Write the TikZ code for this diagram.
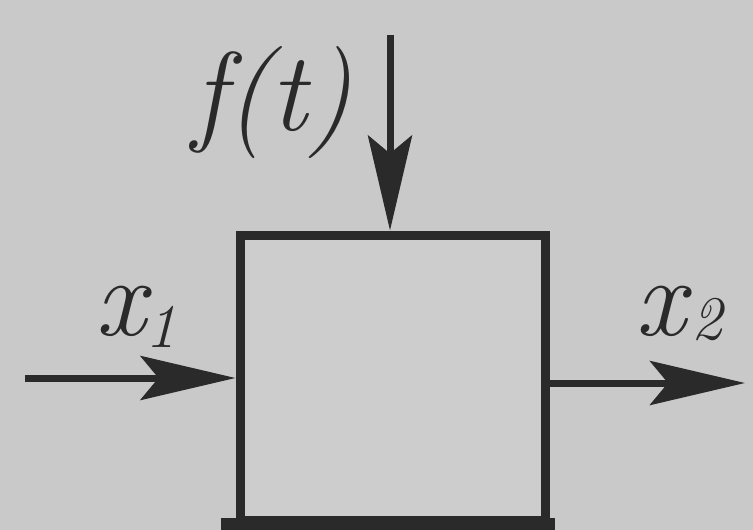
\documentclass[tikz,border=0pt]{standalone}
\usetikzlibrary{arrows.meta}
\definecolor{bg}{HTML}{C9C9C9}
\definecolor{boxbg}{HTML}{CDCDCD}
\definecolor{ink}{HTML}{2A2A2A}
\begin{document}
\begin{tikzpicture}[x=1pt,y=-1pt,
  arr/.style={draw=ink,line width=7pt,-{Stealth[length=95pt,width=44pt,inset=18pt]}},
  lbl/.style={font=\fontsize{112}{112}\selectfont\itshape,text=ink,inner sep=0pt},
  blockbox/.style={draw=ink,line width=9pt,fill=boxbg,minimum width=305pt,minimum height=285pt,inner sep=0pt}]
\fill[bg] (0,0) rectangle (753,530);
\useasboundingbox (0,0) rectangle (753,530);
\node[blockbox] (box) at (392.5,377.5) {};
\draw[ink,line width=14pt] ([xshift=-15pt]box.south west) -- ([xshift=5pt]box.south east);
\coordinate (tin) at (390,35);
\coordinate (lin) at (25,378);
\coordinate (rout) at (745,383);
\draw[arr] (tin) -- (tin |- box.north);
\draw[arr] (lin) -- (box.west |- lin);
\draw[arr] (box.east |- rout) -- (rout);
\node[lbl,anchor=base] (f) at (272,130) {f(t)};
\node[lbl,anchor=base west] (x1) at (95,335) {x\raisebox{-12pt}{\fontsize{62}{62}\selectfont 1}};
\node[lbl,anchor=base west] (x2) at (635,335) {x\hspace{6pt}\raisebox{-4pt}{\fontsize{62}{62}\selectfont 2}};
\end{tikzpicture}
\end{document}
